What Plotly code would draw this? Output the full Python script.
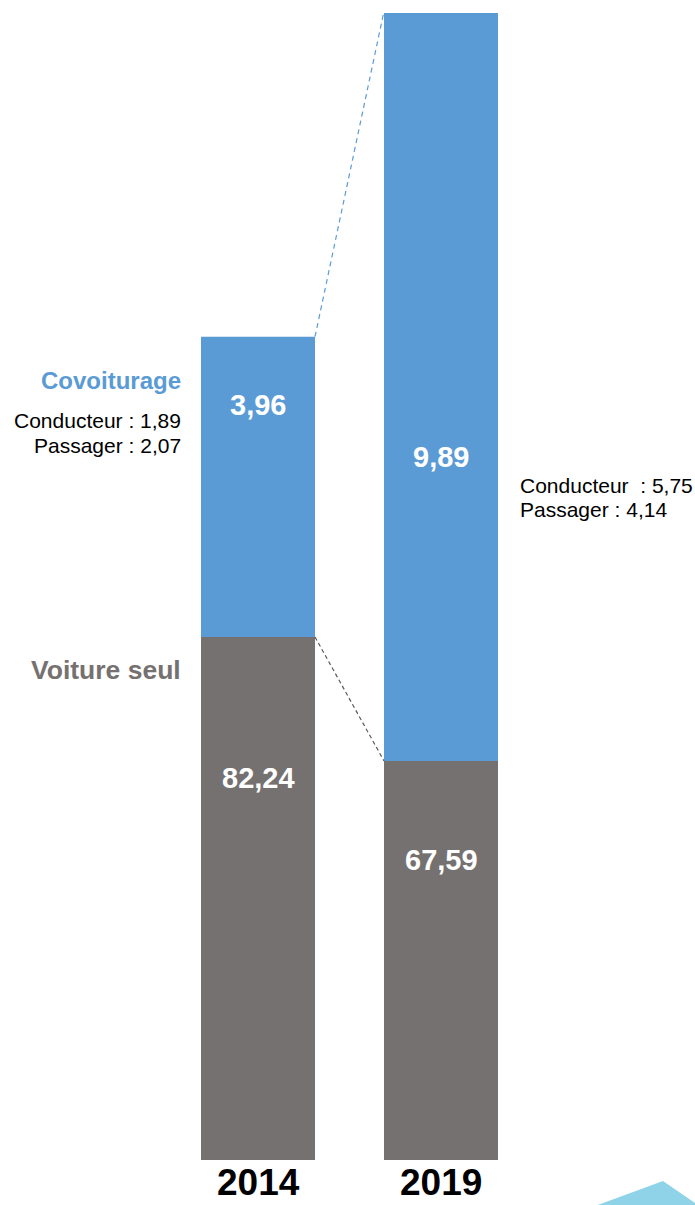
import plotly.graph_objects as go

years = ["2014", "2019"]
voiture_seul = [82.24, 67.59]
covoiturage = [3.96, 9.89]
conducteur = [1.89, 5.75]
passager = [2.07, 4.14]

BLUE = "#5B9BD5"
GREY = "#767171"
FONT = "Arial, Liberation Sans, sans-serif"

W, H = 695, 1205
TOP, BOTTOM = 13, 1160  # plot area rows in the picture


def fr(v):
    return f"{v:.2f}".replace(".", ",")


def py(p):
    # picture row -> paper y
    return (BOTTOM - p) / (BOTTOM - TOP)


def px(p):
    # picture column -> paper x
    return p / W


# broken scales: grey axis starts above zero, blue has its own scale
y_range = [20.45, 155.95]
y2_range = [0, 15.13]
k = (y2_range[1] - y2_range[0]) / (y_range[1] - y_range[0])
blue_base = [(v - y_range[0]) * k for v in voiture_seul]

x = list(range(len(years)))
bw = 0.623

fig = go.Figure()
fig.add_trace(go.Bar(x=x, y=voiture_seul, width=bw, marker=dict(color=GREY, line=dict(width=0)),
                     yaxis="y", hoverinfo="skip"))
fig.add_trace(go.Bar(x=x, y=covoiturage, base=blue_base, width=bw,
                     marker=dict(color=BLUE, line=dict(width=0)), yaxis="y2", hoverinfo="skip"))

# connector lines
fig.add_shape(type="line", xref="x", yref="y2",
              x0=x[0] + bw / 2, y0=blue_base[0] + covoiturage[0],
              x1=x[1] - bw / 2, y1=blue_base[1] + covoiturage[1],
              line=dict(color=BLUE, width=1.2, dash="5px,4px"))
fig.add_shape(type="line", xref="x", yref="y",
              x0=x[0] + bw / 2, y0=voiture_seul[0],
              x1=x[1] - bw / 2, y1=voiture_seul[1],
              line=dict(color="#595959", width=1.2, dash="4px,3px"))

# decorative corner triangle
fig.add_shape(type="path", xref="paper", yref="paper", layer="above",
              path=f"M {px(595)} {py(1206)} L {px(663)} {py(1181)} L {px(705)} {py(1210)} Z",
              fillcolor="#8FD3E8", line=dict(width=0))

val_font = dict(family=FONT, size=29, color="white")
blue_label_y = [405, 457]
grey_label_y = [778, 860]
for i in x:
    fig.add_annotation(x=i, y=py(blue_label_y[i]), xref="x", yref="paper", text=f"<b>{fr(covoiturage[i])}</b>",
                       showarrow=False, font=val_font, xanchor="center", yanchor="middle")
    fig.add_annotation(x=i, y=py(grey_label_y[i]), xref="x", yref="paper", text=f"<b>{fr(voiture_seul[i])}</b>",
                       showarrow=False, font=val_font, xanchor="center", yanchor="middle")
    fig.add_annotation(x=i, y=py(1204), xref="x", yref="paper", text=f"<b>{years[i]}</b>",
                       showarrow=False, font=dict(family=FONT, size=37, color="black"),
                       xanchor="center", yanchor="bottom", borderpad=0)

side_font = dict(family=FONT, size=21, color="black")
side_labels = [
    (183, 381, "right", "<b>Covoiturage</b>", dict(family=FONT, size=24, color=BLUE)),
    (183, 670, "right", "<b>Voiture seul</b>", dict(family=FONT, size=26.5, color=GREY)),
    (183, 421, "right", f"Conducteur : {fr(conducteur[0])}", side_font),
    (183, 445, "right", f"Passager : {fr(passager[0])}", side_font),
    (518, 485, "left", f"Conducteur\u00a0 : {fr(conducteur[1])}", side_font),
    (518, 509, "left", f"Passager : {fr(passager[1])}", side_font),
]
for lx, ly, anchor, text, font in side_labels:
    fig.add_annotation(x=px(lx), y=py(ly), xref="paper", yref="paper", xanchor=anchor, yanchor="middle",
                       text=text, showarrow=False, font=font)

fig.update_layout(
    width=W, height=H,
    margin=dict(l=0, r=0, t=TOP, b=H - BOTTOM),
    paper_bgcolor="white", plot_bgcolor="white",
    showlegend=False, barmode="overlay",
    xaxis=dict(range=[-258 / 183, 1 + (695 - 441) / 183], visible=False),
    yaxis=dict(range=y_range, visible=False),
    yaxis2=dict(range=y2_range, overlaying="y", visible=False),
)

fig.write_html("out.html", config={"displayModeBar": False},
               post_script="document.body.style.margin = '0';")
